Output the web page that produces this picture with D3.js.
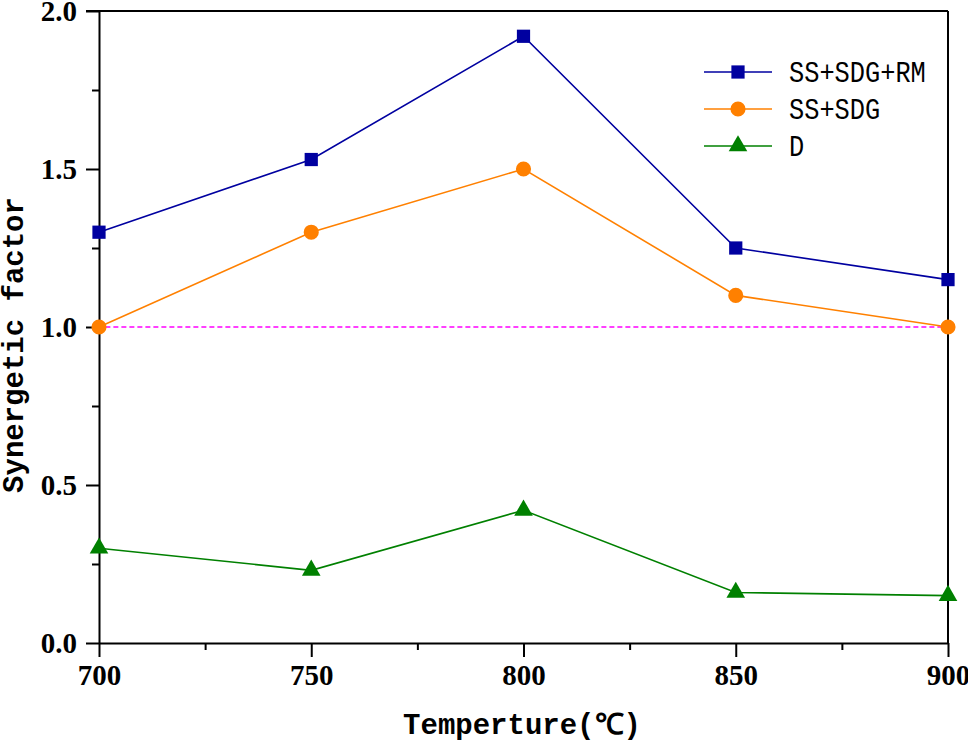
<!DOCTYPE html>
<html>
<head>
<meta charset="utf-8">
<script src="https://cdn.jsdelivr.net/npm/d3@7"></script>
<style>
  body { margin: 0; background: #fff; }
  svg { display: block; }
</style>
</head>
<body>
<div id="chart"></div>
<script>
// values
const temps = [700, 750, 800, 850, 900];
const rmVals = [1.30, 1.53, 1.92, 1.25, 1.15];
const sdgVals = [1.00, 1.30, 1.50, 1.10, 1.00];
const dVals = [0.30, 0.23, 0.42, 0.16, 0.15];
const seriesNames = ["SS+SDG+RM", "SS+SDG", "D"];
const xTicks = [700, 750, 800, 850, 900];
const yTicks = [0, 0.5, 1.0, 1.5, 2.0];
const refLine = 1.0;

const w = 968, h = 744;
const margin = { top: 11, right: 20, bottom: 101, left: 99 };
const width = w - margin.left - margin.right;
const height = h - margin.top - margin.bottom;

const svg = d3.select("#chart").append("svg")
  .attr("width", w)
  .attr("height", h);

const g = svg.append("g")
  .attr("transform", `translate(${margin.left},${margin.top})`);

const xSc = d3.scaleLinear().domain([700, 900]).range([0, width]);
const ySc = d3.scaleLinear().domain([0, 2]).range([height, 0]);

// dashed reference at 1.0
g.append("line")
  .attr("x1", xSc(701.5)).attr("x2", xSc(900))
  .attr("y1", ySc(refLine)).attr("y2", ySc(refLine))
  .attr("stroke", "#ff00ff")
  .attr("stroke-width", 1.3)
  .attr("stroke-dasharray", "5,3");

// frame: top and right lines
g.append("line")
  .attr("x1", -13).attr("x2", width)
  .attr("y1", 0).attr("y2", 0)
  .attr("stroke", "#000").attr("stroke-width", 2);
g.append("line")
  .attr("x1", width).attr("x2", width)
  .attr("y1", 0).attr("y2", height)
  .attr("stroke", "#000").attr("stroke-width", 2);

// axes
g.append("g")
  .attr("transform", `translate(0,${height})`)
  .call(d3.axisBottom(xSc).tickValues(xTicks).tickSize(14).tickSizeOuter(0).tickPadding(7)
    .tickFormat(d3.format("d")));
g.append("g")
  .attr("transform", `translate(0,${height})`)
  .call(d3.axisBottom(xSc).tickValues([725, 775, 825, 875]).tickSize(7).tickFormat(""))
  .select(".domain").remove();

const yAxis = g.append("g")
  .call(d3.axisLeft(ySc).tickValues(yTicks).tickSize(13).tickSizeOuter(0).tickPadding(9)
    .tickFormat(d3.format(".1f")));
g.append("g")
  .call(d3.axisLeft(ySc).tickValues([0.25, 0.75, 1.25, 1.75]).tickSize(7).tickFormat(""))
  .select(".domain").remove();

g.selectAll(".domain, .tick line")
  .attr("stroke", "#000")
  .attr("stroke-width", 2);

g.selectAll(".tick text")
  .attr("fill", "#000")
  .style("font-family", "'Liberation Serif', 'Times New Roman', serif")
  .style("font-weight", "bold")
  .style("font-size", "29px");
yAxis.selectAll(".tick text").attr("dy", "0.34em");

// series
const series = [
  { name: seriesNames[0], vals: rmVals, color: "#0000a0", shape: d3.symbolSquare, size: 175 },
  { name: seriesNames[1], vals: sdgVals, color: "#ff8000", shape: d3.symbolCircle, size: 180 },
  { name: seriesNames[2], vals: dVals, color: "#008000", shape: d3.symbolTriangle, size: 150 }
];

const line = d3.line()
  .x((d, i) => xSc(temps[i]))
  .y(d => ySc(d));

series.forEach(s => {
  g.append("path")
    .datum(s.vals)
    .attr("fill", "none")
    .attr("stroke", s.color)
    .attr("stroke-width", 1.6)
    .attr("d", line);

  g.selectAll(null)
    .data(s.vals)
    .join("path")
      .attr("transform", (d, i) => `translate(${xSc(temps[i])},${ySc(d)})`)
      .attr("d", d3.symbol().type(s.shape).size(s.size))
      .attr("fill", s.color);
});

// legend
const legend = g.append("g")
  .attr("transform", `translate(${605},${61})`);

series.forEach((s, i) => {
  const row = legend.append("g").attr("transform", `translate(0,${i * 37})`);
  row.append("line")
    .attr("x1", 0).attr("x2", 68)
    .attr("stroke", s.color).attr("stroke-width", 1.6);
  row.append("path")
    .attr("transform", "translate(34,0)")
    .attr("d", d3.symbol().type(s.shape).size(s.size))
    .attr("fill", s.color);
  row.append("text")
    .attr("x", 85)
    .attr("y", 10)
    .style("font-family", "'Liberation Mono', 'Courier New', monospace")
    .style("font-size", "30px")
    .attr("textLength", s.name.length * 15.2)
    .attr("lengthAdjust", "spacingAndGlyphs")
    .text(s.name);
});

// axis titles
svg.append("text")
  .attr("x", 522)
  .attr("y", 734)
  .attr("text-anchor", "middle")
  .style("font-family", "'Liberation Mono', 'Courier New', monospace")
  .style("font-weight", "bold")
  .style("font-size", "29px")
  .text("Temperture(℃)");

svg.append("text")
  .attr("transform", "translate(23,345) rotate(-90)")
  .attr("text-anchor", "middle")
  .style("font-family", "'Liberation Mono', 'Courier New', monospace")
  .style("font-weight", "bold")
  .style("font-size", "29px")
  .text("Synergetic factor");
</script>
</body>
</html>
